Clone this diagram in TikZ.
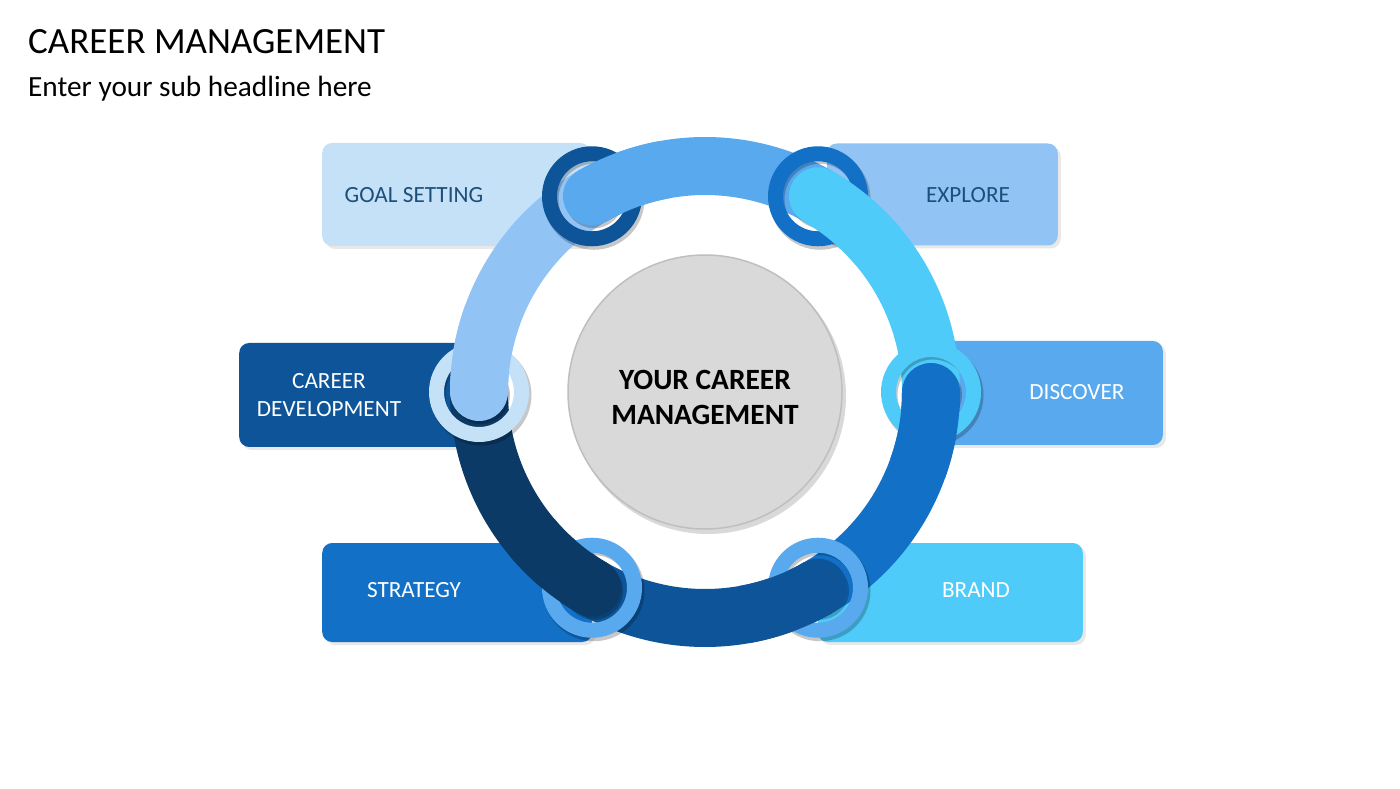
\documentclass[tikz,border=0pt]{standalone}
\usepackage{fontspec}
\setmainfont{Carlito}
\usetikzlibrary{calc,positioning,shadows}
\definecolor{cA}{RGB}{88,169,238}
\definecolor{cB}{RGB}{79,203,250}
\definecolor{cC}{RGB}{18,112,199}
\definecolor{cD}{RGB}{14,84,153}
\definecolor{cE}{RGB}{11,58,102}
\definecolor{cF}{RGB}{145,196,245}
\definecolor{cG}{RGB}{197,225,248}
\definecolor{txtdark}{RGB}{30,78,122}
\definecolor{hubgray}{RGB}{217,217,217}
\begin{document}
\begin{tikzpicture}[x=1pt, y=1pt,
        line join=round,
        band/.style={line width=58pt},
        link/.style={line width=15pt},
        panel/.style={rounded corners=10pt, inner sep=0pt,
                drop shadow={shadow xshift=3pt, shadow yshift=-3pt, opacity=0.18}},
        lbl/.style={font=\fontsize{23.2}{28}\selectfont, align=center},
        capshade/.style={black, opacity=0.22}]
        \def\R{226}   % radius of the ring centre line
        \def\rc{29}   % half width of the band
        \fill[white] (0,0) rectangle (1400,788);
        \useasboundingbox (0,0) rectangle (1400,788);

        % TITLES
        \node[anchor=base west, inner sep=0pt, font=\fontsize{37}{44}\selectfont] (title) at (28,734) {CAREER MANAGEMENT};
        \node[anchor=base west, inner sep=0pt, font=\fontsize{29.3}{34}\selectfont] (subtitle) at (28,691) {Enter your sub headline here};

        \coordinate (O) at (705,396);
        \foreach \a in {0,60,...,300}{
        \coordinate (p\a) at ($(O)+(\a:\R)$);
        }

        % PANELS
        \node[panel, fill=cG, anchor=west, minimum width=268pt, minimum height=103pt] (goalbox) at (322,593.5) {};
        \node[panel, fill=cF, anchor=east, minimum width=231pt, minimum height=102pt] (explorebox) at (1058,593.5) {};
        \node[panel, fill=cD, anchor=west, minimum width=236pt, minimum height=104pt] (devbox) at (239,393) {};
        \node[panel, fill=cA, anchor=east, minimum width=233pt, minimum height=104pt] (discbox) at (1163,395) {};
        \node[panel, fill=cC, anchor=west, minimum width=270pt, minimum height=99pt] (stratbox) at (322,195.5) {};
        \node[panel, fill=cB, anchor=east, minimum width=265pt, minimum height=99pt] (brandbox) at (1083,195.5) {};

        \node[lbl, text=txtdark] (goal) at (414,593) {GOAL SETTING};
        \node[lbl, text=txtdark] (explore) at (968,593) {EXPLORE};
        \node[lbl, text=white] (dev) at (329,393) {CAREER\\DEVELOPMENT};
        \node[lbl, text=white] (discover) at (1077,396) {DISCOVER};
        \node[lbl, text=white] (strategy) at (414,198) {STRATEGY};
        \node[lbl, text=white] (brand) at (976,198) {BRAND};

        % RING SEGMENTS (body, then links, then rounded heads on top)
        \foreach \a/\col [evaluate={\b=\a-60;}] in {120/cA,60/cB,0/cC,300/cD,240/cE,180/cF}{
        \draw[band,\col] ($(O)+(\b:\R)$) arc[start angle=\b, end angle=\a, radius=\R];
        }
        \foreach \a/\col in {120/cD,60/cC,0/cB,300/cA,240/cA,180/cG}{
        \draw[capshade, link] ($(p\a)+(2,-3)$) circle[radius=43];
        \draw[link,\col] (p\a) circle[radius=42.5];
        }
        \foreach \a/\col [evaluate={\b=\a-20;}] in {120/cA,60/cB,0/cC,300/cD,240/cE,180/cF}{
        \fill[capshade] ($(p\a)+(2,-3)$) circle[radius=\rc];
        \draw[band,\col] ($(O)+(\b:\R)$) arc[start angle=\b, end angle=\a, radius=\R];
        \fill[\col] (p\a) circle[radius=\rc];
        }

        % HUB
        \fill[black, opacity=0.15] ($(O)+(3,-4)$) circle[radius=138];
        \node[circle, fill=hubgray, draw=black!25, line width=1.5pt, minimum size=274pt, inner sep=0pt] (hub) at (O) {};
        \node[align=center, font=\bfseries\fontsize{29.4}{35}\selectfont] (hubtext) at (705,391) {YOUR CAREER\\MANAGEMENT};
\end{tikzpicture}
\end{document}
